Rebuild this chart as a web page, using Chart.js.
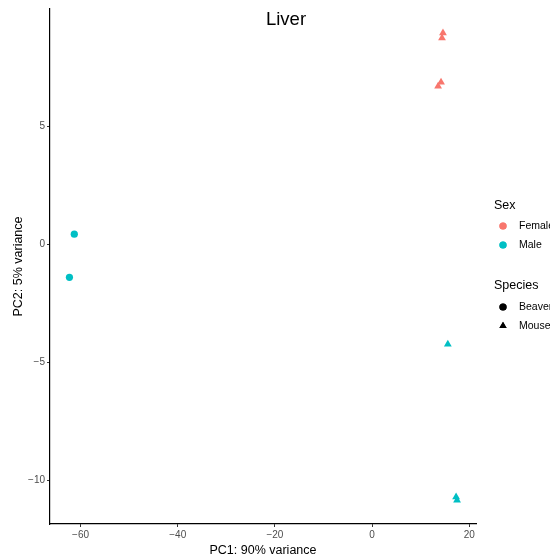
<!DOCTYPE html>
<html>
<head>
<meta charset="utf-8">
<script src="https://cdn.jsdelivr.net/npm/chart.js@4/dist/chart.umd.min.js"></script>
<style>
  html, body { margin: 0; padding: 0; background: #fff; }
  #wrap { width: 550px; height: 560px; }
</style>
</head>
<body>
<div id="wrap"><canvas id="pca"></canvas></div>
<script>
// PCA coordinates
const femaleMouseX = [14.6, 14.4, 14.2, 13.6];
const femaleMouseY = [8.94, 8.73, 6.86, 6.69];
const maleMouseX = [15.6, 17.3, 17.5];
const maleMouseY = [-4.24, -10.72, -10.85];
const maleBeaverX = [-61.3, -62.3];
const maleBeaverY = [0.42, -1.41];

const xTicks = [-60, -40, -20, 0, 20];
const yTicks = [-10, -5, 0, 5];

const sexLabels = ["Female", "Male"];
const sexColors = ["#F8766D", "#00BFC4"];
const speciesLabels = ["Beaver", "Mouse"];
const speciesShapes = ["circle", "triangle"];

const FONT = "'Liberation Sans', Arial, Helvetica, sans-serif";

// Turn two arrays into scatter points
function toPoints(xs, ys) {
  return xs.map((x, i) => ({ x: x, y: ys[i] }));
}

function minusSign(v) {
  return String(v).replace("-", "\u2212");
}

// Title and the two legend groups, drawn ggplot style
const extrasPlugin = {
  id: "extras",
  afterDraw(chart) {
    const ctx = chart.ctx;
    ctx.save();
    ctx.fillStyle = "#000";
    ctx.textBaseline = "middle";
    ctx.font = "18.5px " + FONT;
    ctx.textAlign = "center";
    ctx.fillText("Liver", 286, 20);

    ctx.textAlign = "left";
    ctx.font = "12.5px " + FONT;
    ctx.fillText("Sex", 494, 206);
    ctx.fillText("Species", 494, 286);

    ctx.font = "10.5px " + FONT;
    sexLabels.forEach((label, i) => {
      const y = 226 + i * 19;
      ctx.fillStyle = sexColors[i];
      Chart.helpers.drawPoint(ctx, { pointStyle: "circle", radius: 3.6, borderWidth: 0 }, 503, y);
      ctx.fill();
      ctx.fillStyle = "#000";
      ctx.fillText(label, 519, y);
    });
    speciesLabels.forEach((label, i) => {
      const y = 307 + i * 19;
      ctx.fillStyle = "#000";
      ctx.strokeStyle = "#000";
      Chart.helpers.drawPoint(ctx, { pointStyle: speciesShapes[i], radius: i ? 4.2 : 3.6, borderWidth: 0 }, 503, y);
      ctx.fill();
      ctx.fillText(label, 519, y);
    });
    ctx.restore();
  }
};

const ctx = document.getElementById("pca");

new Chart(ctx, {
  type: "scatter",
  data: {
    datasets: [
      {
        label: "Female Mouse",
        data: toPoints(femaleMouseX, femaleMouseY),
        pointStyle: "triangle",
        backgroundColor: sexColors[0],
        borderColor: sexColors[0],
        pointRadius: 4.5,
        borderWidth: 0
      },
      {
        label: "Male Mouse",
        data: toPoints(maleMouseX, maleMouseY),
        pointStyle: "triangle",
        backgroundColor: sexColors[1],
        borderColor: sexColors[1],
        pointRadius: 4.5,
        borderWidth: 0
      },
      {
        label: "Male Beaver",
        data: toPoints(maleBeaverX, maleBeaverY),
        pointStyle: "circle",
        backgroundColor: sexColors[1],
        borderColor: sexColors[1],
        pointRadius: 3.6,
        borderWidth: 0
      }
    ]
  },
  options: {
    responsive: true,
    maintainAspectRatio: false,
    animation: false,
    layout: { padding: { left: 0, right: 74, top: 9, bottom: 0 } },
    plugins: {
      legend: { display: false },
      tooltip: { enabled: false }
    },
    scales: {
      x: {
        type: "linear",
        min: -66.3,
        max: 21.4,
        afterBuildTicks: (scale) => {
          scale.ticks = xTicks.map((v) => ({ value: v }));
        },
        afterFit: (scale) => { scale.height = 36; },
        border: { display: true, color: "#000", width: 1.2 },
        grid: { display: true, drawOnChartArea: false, tickLength: 3, color: "#333" },
        ticks: {
          color: "#4d4d4d",
          font: { family: FONT, size: 10 },
          padding: 2,
          maxRotation: 0,
          callback: (v) => minusSign(v)
        },
        title: {
          display: true,
          text: "PC1: 90% variance",
          color: "#000",
          font: { family: FONT, size: 12.5 },
          padding: { top: 0, bottom: 2 }
        }
      },
      y: {
        type: "linear",
        min: -11.86,
        max: 9.96,
        afterBuildTicks: (scale) => {
          scale.ticks = yTicks.map((v) => ({ value: v }));
        },
        afterFit: (scale) => { scale.width = 50; },
        border: { display: true, color: "#000", width: 1.2 },
        grid: { display: true, drawOnChartArea: false, tickLength: 3, color: "#333" },
        ticks: {
          color: "#4d4d4d",
          font: { family: FONT, size: 10 },
          padding: 2,
          callback: (v) => minusSign(v)
        },
        title: {
          display: true,
          text: "PC2: 5% variance",
          color: "#000",
          font: { family: FONT, size: 12.5 },
          padding: { top: 11, bottom: 0 }
        }
      }
    }
  },
  plugins: [extrasPlugin]
});
</script>
</body>
</html>
